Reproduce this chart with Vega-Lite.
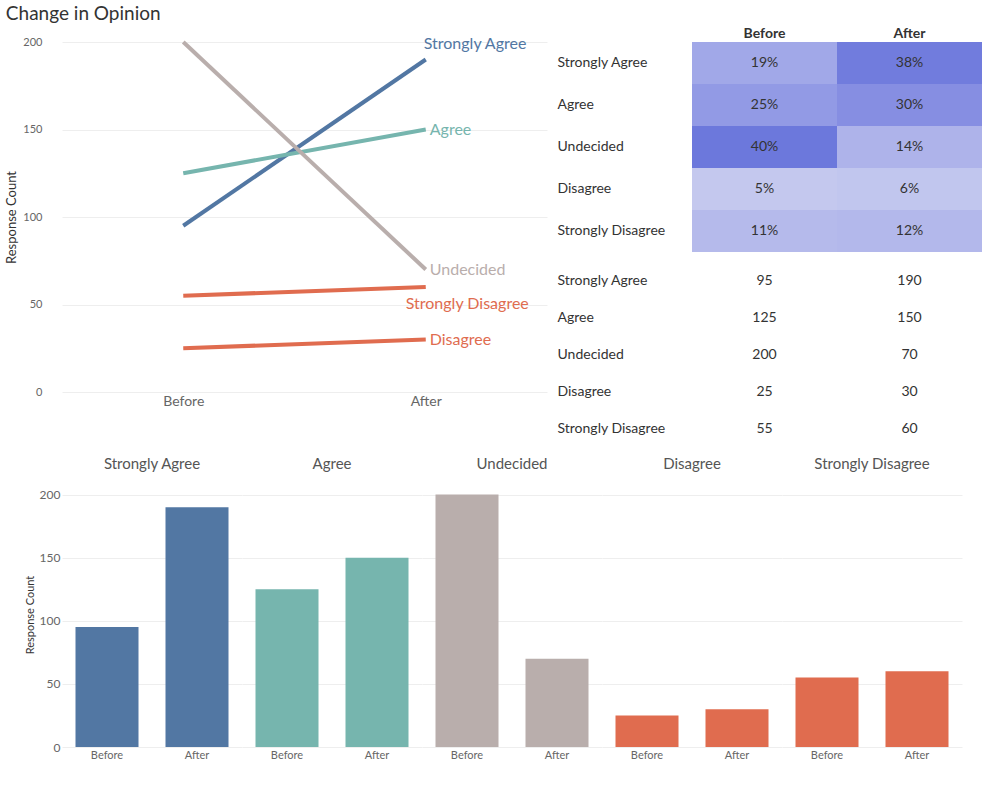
{
  "$schema": "https://vega.github.io/schema/vega-lite/v6.json",
  "datasets": {
    "d": [
      {"category": "Strongly Agree", "period": "Before", "count": 95, "pct": 0.19},
      {"category": "Strongly Agree", "period": "After", "count": 190, "pct": 0.38},
      {"category": "Agree", "period": "Before", "count": 125, "pct": 0.25},
      {"category": "Agree", "period": "After", "count": 150, "pct": 0.30},
      {"category": "Undecided", "period": "Before", "count": 200, "pct": 0.40},
      {"category": "Undecided", "period": "After", "count": 70, "pct": 0.14},
      {"category": "Disagree", "period": "Before", "count": 25, "pct": 0.05},
      {"category": "Disagree", "period": "After", "count": 30, "pct": 0.06},
      {"category": "Strongly Disagree", "period": "Before", "count": 55, "pct": 0.11},
      {"category": "Strongly Disagree", "period": "After", "count": 60, "pct": 0.12}
    ]
  },
  "config": {
    "font": "Lato",
    "view": {"stroke": null},
    "axis": {"labelColor": "#666", "titleColor": "#333", "gridColor": "#eee", "domain": false, "ticks": false, "labelFontSize": 12},
    "concat": {"spacing": 10}
  },
  "vconcat": [
    {
      "hconcat": [
        {
          "title": {"text": "Change in Opinion", "anchor": "start", "fontSize": 19, "fontWeight": "normal", "color": "#333", "offset": 10},
          "width": 485,
          "height": 350,
          "data": {"name": "d"},
          "encoding": {
            "x": {"field": "period", "type": "ordinal", "sort": ["Before", "After"], "scale": {"type": "point", "padding": 0.5}, "axis": {"title": null, "labelAngle": 0, "labelFontSize": 14}},
            "y": {"field": "count", "type": "quantitative", "scale": {"domain": [0, 200]}, "axis": {"title": "Response Count", "tickCount": 5, "labelFontSize": 11, "titleFontSize": 13, "titleFontWeight": "normal", "labelPadding": 20}},
            "color": {"field": "category", "type": "nominal", "legend": null,
              "scale": {"domain": ["Strongly Agree", "Agree", "Undecided", "Disagree", "Strongly Disagree"], "range": ["#5277a3", "#76b5ae", "#b9aeac", "#e06c4f", "#e06c4f"]}}
          },
          "layer": [
            {"mark": {"type": "line", "strokeWidth": 4}},
            {"transform": [{"filter": "datum.period == 'After' && datum.category != 'Strongly Agree' && datum.category != 'Strongly Disagree'"}],
             "mark": {"type": "text", "align": "left", "dx": 4, "fontSize": 16},
             "encoding": {"text": {"field": "category"}}},
            {"transform": [{"filter": "datum.category == 'Strongly Agree' && datum.period == 'After'"}],
             "mark": {"type": "text", "align": "left", "dx": -2, "dy": -16, "fontSize": 16},
             "encoding": {"text": {"field": "category"}}},
            {"transform": [{"filter": "datum.category == 'Strongly Disagree' && datum.period == 'After'"}],
             "mark": {"type": "text", "align": "left", "dx": -20, "dy": 17, "fontSize": 16},
             "encoding": {"text": {"field": "category"}}}
          ]
        },
        {
          "vconcat": [
            {
              "width": 290,
              "height": 210,
              "data": {"name": "d"},
              "encoding": {
                "x": {"field": "period", "type": "nominal", "sort": ["Before", "After"], "axis": {"orient": "top", "title": null, "labelAngle": 0, "labelFontWeight": "bold", "labelColor": "#333", "labelFontSize": 14}},
                "y": {"field": "category", "type": "nominal", "sort": ["Strongly Agree", "Agree", "Undecided", "Disagree", "Strongly Disagree"], "axis": {"title": null, "labelAlign": "left", "labelPadding": 135, "labelLimit": 140, "labelColor": "#333", "labelFontSize": 14}}
              },
              "layer": [
                {"mark": {"type": "rect"},
                 "encoding": {"color": {"field": "pct", "type": "quantitative", "legend": null, "scale": {"domain": [0.05, 0.4], "range": ["#c4c8ee", "#6c78dc"]}}}},
                {"mark": {"type": "text", "fontSize": 14, "color": "#333"},
                 "encoding": {"text": {"field": "pct", "format": ".0%"}}}
              ]
            },
            {
              "width": 290,
              "height": 185,
              "data": {"name": "d"},
              "mark": {"type": "text", "fontSize": 14, "color": "#333"},
              "encoding": {
                "x": {"field": "period", "type": "nominal", "sort": ["Before", "After"], "axis": null},
                "y": {"field": "category", "type": "nominal", "sort": ["Strongly Agree", "Agree", "Undecided", "Disagree", "Strongly Disagree"], "axis": {"title": null, "labelAlign": "left", "labelPadding": 135, "labelLimit": 140, "labelColor": "#333", "labelFontSize": 14}},
                "text": {"field": "count"}
              }
            }
          ]
        }
      ]
    },
    {
      "data": {"name": "d"},
      "spacing": 0,
      "facet": {"column": {"field": "category", "sort": ["Strongly Agree", "Agree", "Undecided", "Disagree", "Strongly Disagree"],
        "header": {"title": null, "labelFontSize": 15, "labelColor": "#555"}}},
      "spec": {
        "width": 180,
        "height": 265,
        "mark": {"type": "bar"},
        "encoding": {
          "x": {"field": "period", "type": "nominal", "sort": ["Before", "After"], "scale": {"paddingInner": 0.3, "paddingOuter": 0.15}, "axis": {"title": null, "labelAngle": 0, "labelFontSize": 11}},
          "y": {"field": "count", "type": "quantitative", "scale": {"domain": [0, 210]}, "axis": {"title": "Response Count", "values": [0, 50, 100, 150, 200], "titleFontSize": 11, "titleFontWeight": "normal", "grid": true}},
          "color": {"field": "category", "type": "nominal", "legend": null,
            "scale": {"domain": ["Strongly Agree", "Agree", "Undecided", "Disagree", "Strongly Disagree"], "range": ["#5277a3", "#76b5ae", "#b9aeac", "#e06c4f", "#e06c4f"]}}
        }
      }
    }
  ]
}
